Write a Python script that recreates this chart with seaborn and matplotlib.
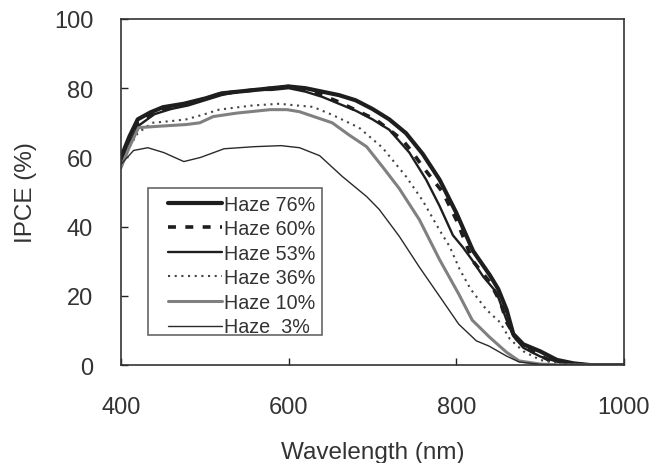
import numpy as np
import pandas as pd
import matplotlib
matplotlib.use("Agg")
import matplotlib.pyplot as plt
from matplotlib.patches import Rectangle
import seaborn as sns

# ---- data ----
wl_76 = [400, 410, 420, 435, 450, 475, 500, 520, 540, 560, 580, 600, 620, 640, 660, 680, 700, 720, 740, 760, 780, 800, 820, 840, 850, 860, 868, 880, 900, 920, 940, 960, 1000]
ipce_76 = [60, 66, 71, 73, 74.5, 75.5, 77, 78.5, 79, 79.5, 80, 80.5, 80, 79, 78, 76.5, 74, 71, 67, 61, 53.6, 44, 33, 26, 22, 16, 9, 6, 4, 1.5, 0.5, 0, 0]

wl_60 = [400, 410, 420, 440, 460, 480, 500, 520, 540, 560, 580, 600, 620, 640, 660, 684, 704, 720, 736, 748, 760, 772, 784, 800, 820, 840, 853, 860, 872, 890, 910, 930, 960, 1000]
ipce_60 = [59, 65, 70, 73, 74.5, 75.5, 77, 78.5, 79, 79.5, 80, 80.5, 79.5, 78, 76, 73.2, 70.9, 68, 65, 61.4, 57.3, 53.6, 49.9, 42, 30, 24, 18, 12.4, 7.5, 4, 1.5, 0.5, 0, 0]

wl_53 = [400, 410, 420, 440, 460, 480, 500, 520, 540, 560, 580, 600, 620, 640, 660, 680, 700, 720, 744, 764, 780, 796, 808, 820, 832, 848, 860, 868, 880, 900, 920, 940, 960, 1000]
ipce_53 = [58, 64, 69, 72.5, 74, 75, 76.5, 78, 79, 79.5, 79.5, 80, 79, 77.5, 75.5, 73.5, 71, 68, 61.4, 53.6, 46, 37.5, 34, 30, 25.6, 21, 13, 8.4, 5, 2.5, 1, 0.3, 0, 0]

wl_36 = [400, 410, 420, 437, 460, 478, 500, 517, 540, 557, 589, 610, 629, 652, 684, 712, 740, 760, 780, 792, 804, 817, 836, 852, 864, 880, 900, 920, 950, 1000]
ipce_36 = [58, 63, 67, 70, 70.5, 71, 72.5, 73.8, 74.5, 75, 75.5, 75, 74.6, 72.3, 68.6, 62.8, 54.5, 47.5, 39, 34.3, 27.7, 22, 16, 12.4, 7.5, 4, 1.5, 0.5, 0, 0]

wl_10 = [400, 410, 421, 445, 478, 494, 510, 538, 578, 598, 613, 630, 652, 672, 693, 712, 732, 756, 780, 803, 819, 840, 860, 875, 900, 930, 1000]
ipce_10 = [57, 63, 68.6, 69, 69.5, 70, 71.8, 72.8, 73.8, 73.8, 73.2, 71.8, 70, 66.5, 63.1, 57.3, 51, 42, 30.5, 20.5, 13, 8, 3.7, 1.2, 0.3, 0, 0]

wl_3 = [400, 415, 432, 451, 475, 495, 523, 559, 591, 613, 637, 664, 693, 708, 732, 756, 780, 803, 824, 839, 860, 875, 900, 930, 1000]
ipce_3 = [58, 62, 62.8, 61.4, 58.8, 60, 62.5, 63.1, 63.4, 62.8, 60.5, 54.5, 48.7, 45, 37.2, 28.3, 19.9, 11.8, 7, 5.5, 2.6, 0.9, 0.2, 0, 0]

labels = ["Haze 76%", "Haze 60%", "Haze 53%", "Haze 36%", "Haze 10%", "Haze  3%"]
x_ticks = [400, 600, 800, 1000]
y_ticks = [0, 20, 40, 60, 80, 100]

series = [(wl_76, ipce_76), (wl_60, ipce_60), (wl_53, ipce_53),
          (wl_36, ipce_36), (wl_10, ipce_10), (wl_3, ipce_3)]

styles = [
    dict(color="#1e1e1e", lw=3.0, ls="-"),
    dict(color="#1e1e1e", lw=2.6, ls=(0, (2.2, 2.6))),
    dict(color="#1e1e1e", lw=1.7, ls="-"),
    dict(color="#444444", lw=1.5, ls=(0, (1, 2.2))),
    dict(color="#808080", lw=2.2, ls="-"),
    dict(color="#2a2a2a", lw=1.0, ls="-"),
]

sns.set_theme(style="white")
plt.rcParams["font.family"] = ["Liberation Sans", "DejaVu Sans"]

fig = plt.figure(figsize=(6.54, 4.64), dpi=100)
ax = fig.add_axes([0.185, 0.211, 0.769, 0.746])

for (x, y), lab, st in zip(series, labels, styles):
    df = pd.DataFrame({"wl": x, "ipce": y})
    sns.lineplot(data=df, x="wl", y="ipce", ax=ax, label=lab,
                 color=st["color"], linewidth=st["lw"], linestyle=st["ls"])

ax.set_xlim(400, 1000)
ax.set_ylim(0, 100)
ax.set_xticks(x_ticks)
ax.set_yticks(y_ticks)
ax.tick_params(axis="both", direction="in", length=5, width=1, colors="#222222",
               labelsize=17, bottom=True, left=True, top=False, right=False)
ax.tick_params(axis="y", pad=20, labelcolor="#333333")
ax.tick_params(axis="x", pad=22, labelcolor="#333333")
for s in ax.spines.values():
    s.set_color("#333333")
    s.set_linewidth(1.2)
ax.set_xlabel("Wavelength (nm)", fontsize=17.5, color="#333333", labelpad=17)
ax.set_ylabel("IPCE (%)", fontsize=17.5, color="#333333", labelpad=12)

# legend box frame drawn separately (reference has an asymmetric padding)
ax.add_patch(Rectangle((0.0537, 0.0867), 0.3459, 0.4249, transform=ax.transAxes,
                       fill=True, facecolor="white", edgecolor="#666666",
                       linewidth=1.2, zorder=4))
leg = ax.legend(loc="upper left", bbox_to_anchor=(0.0934, 0.492), frameon=False,
                fontsize=14.2, handlelength=2.74, handletextpad=0.1,
                labelspacing=0.28, borderpad=0, borderaxespad=0)
leg.set_zorder(5)
for t in leg.get_texts():
    t.set_color("#333333")

fig.savefig("out.png", dpi=100)
